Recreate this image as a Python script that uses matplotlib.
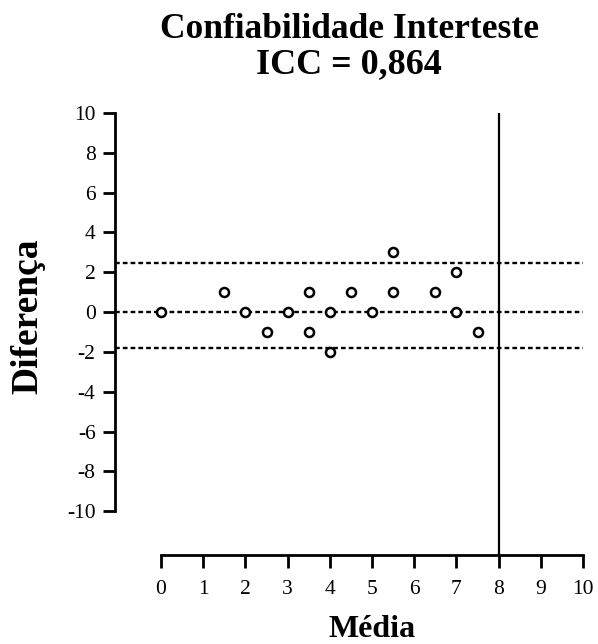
import matplotlib
matplotlib.use("Agg")
import matplotlib.pyplot as plt
import matplotlib.transforms as mtransforms

plt.rcParams["font.family"] = ["Liberation Serif", "DejaVu Serif"]
plt.rcParams["axes.unicode_minus"] = False

# data
media = [0, 1.5, 2, 2.5, 3, 3.5, 3.5, 4, 4, 4.5, 5, 5.5, 5.5, 6.5, 7, 7, 7.5]
diferenca = [0, 1, 0, -1, 0, 1, -1, 0, -2, 1, 0, 3, 1, 1, 2, 0, -1]
linhas_h = [2.45, 0, -1.8]
linha_v = 8
xticks = list(range(0, 11))
yticks = list(range(-10, 11, 2))

W, H = 598, 644
fig = plt.figure(figsize=(W / 100, H / 100), dpi=100)
ax = fig.add_axes([0.1923, 0.1382, 0.975 - 0.1923, 0.8245 - 0.1382])

for h in linhas_h:
    ax.axhline(h, color="black", lw=1.7, dashes=(2.0, 1.3), zorder=1)
ax.axvline(linha_v, color="black", lw=1.6, zorder=1)

ax.plot(media, diferenca, "o", ms=6.5, mfc="white", mec="black", mew=1.8,
        zorder=3, clip_on=False)

ax.set_xlim(-1.09, 10)
ax.set_ylim(-12.2, 10)

ax.spines["top"].set_visible(False)
ax.spines["right"].set_visible(False)
for s in ["left", "bottom"]:
    ax.spines[s].set_linewidth(2)
ax.spines["left"].set_bounds(-10, 10)
ax.spines["bottom"].set_bounds(0, 10)

ax.set_xticks(xticks)
ax.set_yticks(yticks)
ax.tick_params(axis="both", length=9, width=2, labelsize=15.5)
ax.tick_params(axis="x", pad=9)
ax.tick_params(axis="y", pad=5)

# axis labels: x in data units, y in figure pixels
tx = mtransforms.blended_transform_factory(ax.transData, fig.transFigure)
ax.text(5, 1 - 637 / H, "Média", transform=tx, ha="center",
        va="baseline", fontsize=23, fontweight="bold")
ty = mtransforms.blended_transform_factory(fig.transFigure, ax.transData)
ax.text(28 / W, -0.2, "Diferença", transform=ty, rotation=90, ha="center",
        va="center", fontsize=27, fontweight="bold")

cx = 0.5 * (0.1923 + 0.975)
fig.text(cx, 1 - 38 / H, "Confiabilidade Interteste",
         ha="center", va="baseline", fontsize=25.5, fontweight="bold")
fig.text(cx, 1 - 73 / H, "ICC = 0,864",
         ha="center", va="baseline", fontsize=26, fontweight="bold")

fig.savefig("out.png", dpi=100)
